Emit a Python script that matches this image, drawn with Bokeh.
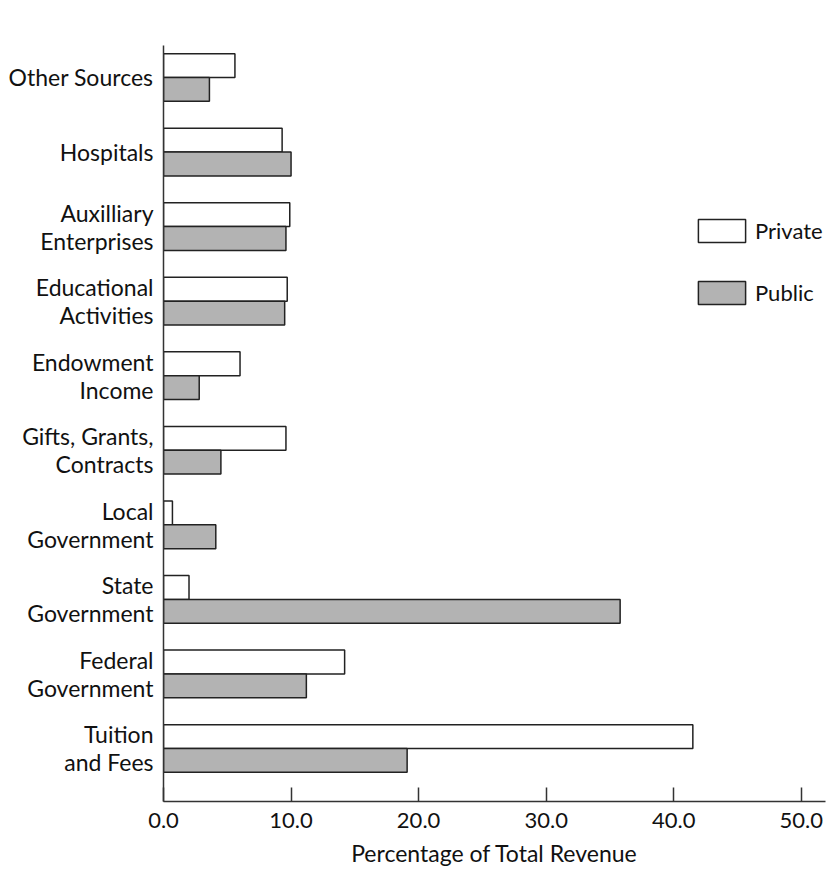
from bokeh.plotting import figure
from bokeh.models import ColumnDataSource, FixedTicker, NumeralTickFormatter, Legend, LegendItem, Range1d
from bokeh.embed import file_html
from bokeh.resources import INLINE

categories = ["Tuition\nand Fees", "Federal\nGovernment", "State\nGovernment", "Local\nGovernment",
              "Gifts, Grants,\nContracts", "Endowment\nIncome", "Educational\nActivities",
              "Auxilliary\nEnterprises", "Hospitals", "Other Sources"]
private = [41.5, 14.2, 2.0, 0.7, 9.6, 6.0, 9.7, 9.9, 9.3, 5.6]
public = [19.1, 11.2, 35.8, 4.1, 4.5, 2.8, 9.5, 9.6, 10.0, 3.6]
x_ticks = [0, 10, 20, 30, 40, 50]
x_title = "Percentage of Total Revenue"

FONT = "Lato"
TXT = "#111111"
BAR_H = 0.32
X_MAX = 51.9
Y_MIN, Y_MAX = -0.711, 9.429

pos = list(range(len(categories)))
src = ColumnDataSource(dict(
    y_priv=[i + BAR_H / 2 for i in pos],
    y_pub=[i - BAR_H / 2 for i in pos],
    private=private, public=public,
))

p = figure(width=830, height=869, output_backend="svg", toolbar_location=None,
           x_range=Range1d(0, X_MAX), y_range=Range1d(Y_MIN, Y_MAX),
           min_border_left=163, min_border_right=5, min_border_top=45, min_border_bottom=68)
p.outline_line_color = None
p.xgrid.visible = False
p.ygrid.visible = False

r_priv = p.hbar(y="y_priv", left=0, right="private", height=BAR_H, source=src,
                fill_color="white", line_color="#222222", line_width=1.5)
r_pub = p.hbar(y="y_pub", left=0, right="public", height=BAR_H, source=src,
               fill_color="#b3b3b3", line_color="#222222", line_width=1.5)

# x axis
xa = p.xaxis[0]
xa.ticker = FixedTicker(ticks=x_ticks)
xa.formatter = NumeralTickFormatter(format="0.0")
xa.major_tick_in = 14
xa.major_tick_out = 0
xa.minor_tick_line_color = None
xa.axis_line_color = "#333333"
xa.axis_line_width = 1.5
xa.major_tick_line_color = "#333333"
xa.major_tick_line_width = 1.5
xa.major_label_text_font = FONT
xa.major_label_text_font_size = "22px"
xa.major_label_text_color = TXT
xa.major_label_standoff = 11
xa.axis_label = x_title
xa.axis_label_text_font = FONT
xa.axis_label_text_font_size = "23px"
xa.axis_label_text_font_style = "normal"
xa.axis_label_text_color = TXT
xa.axis_label_standoff = 8

# y axis
ya = p.yaxis[0]
ya.ticker = FixedTicker(ticks=pos)
ya.major_label_overrides = {i: c for i, c in zip(pos, categories)}
ya.major_tick_in = 0
ya.major_tick_out = 0
ya.minor_tick_line_color = None
ya.axis_line_color = "#333333"
ya.axis_line_width = 1.5
ya.major_label_text_font = FONT
ya.major_label_text_font_size = "23px"
ya.major_label_text_color = TXT
ya.major_label_text_line_height = 1.0
ya.major_label_standoff = 10

legend = Legend(items=[LegendItem(label="Private", renderers=[r_priv]),
                       LegendItem(label="Public", renderers=[r_pub])],
                location=(529, 494), padding=0, margin=0, spacing=33,
                glyph_width=59, glyph_height=29, label_height=29, label_standoff=4,
                label_text_font=FONT, label_text_font_size="22px", label_text_color=TXT,
                border_line_color=None, background_fill_alpha=0)
p.add_layout(legend)

open("out.html", "w").write(file_html(p, INLINE))
